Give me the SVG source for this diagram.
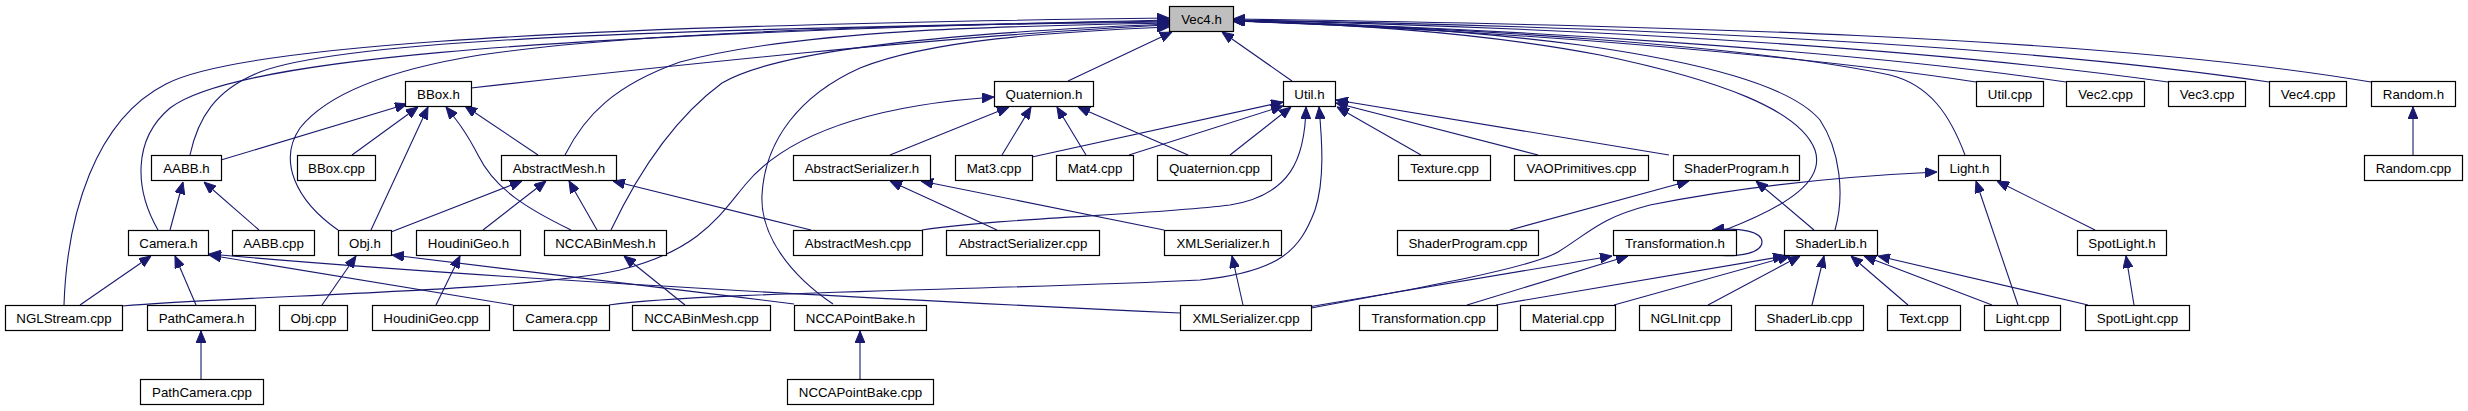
<svg xmlns="http://www.w3.org/2000/svg" width="2468" height="411" viewBox="0 0 2468 411">
<style>
.n rect{fill:#ffffff;stroke:#000000;stroke-width:1.2}
.n text{font-family:"Liberation Sans",Arial,sans-serif;font-size:13.3px;text-anchor:middle;fill:#000000}
#n_vec4h rect{fill:#bfbfbf}
.e path{fill:none;stroke:#191970;stroke-width:1.1;marker-end:url(#a)}
</style>
<defs>
<marker id="a" markerWidth="12" markerHeight="10" refX="12" refY="5" orient="auto" markerUnits="userSpaceOnUse">
<path d="M0,0 L12,5 L0,10 z" fill="#191970" stroke="#191970" stroke-width="1"/>
</marker>
</defs>
<rect width="2468" height="411" fill="#ffffff"/>
<g class="e" id="edges">
<!-- into Vec4.h (left) -->
<path d="M64,305 C67,215 95,120 166,84 C230,50 500,26 1169,18"/>
<path d="M158,230 C135,190 132,140 170,108 C230,62 500,35 1169,20"/>
<path d="M190,155 C198,118 215,90 260,72 C340,42 600,30 1169,21"/>
<path d="M338,230 C295,200 278,160 300,128 C330,90 400,68 480,55 C650,30 950,24 1169,22"/>
<path d="M471,88 C650,68 950,35 1169,25"/>
<path d="M565,155 C585,115 615,85 680,62 C800,30 1000,26 1169,23"/>
<path d="M611,230 C630,190 665,125 722,83 C770,55 900,35 1169,24"/>
<path d="M833,304 C790,275 760,235 762,195 C765,140 800,95 860,68 C930,40 1050,32 1169,27"/>
<path d="M1068,81 L1172,32"/>
<!-- into Vec4.h (right) -->
<path d="M1292,81 L1222,32"/>
<path d="M1725,230 C1790,205 1825,180 1815,150 C1800,110 1720,80 1600,55 C1480,32 1350,24 1233,21"/>
<path d="M1835,230 C1845,195 1840,150 1820,120 C1790,85 1700,62 1580,45 C1450,28 1330,23 1233,21"/>
<path d="M1965,155 C1950,115 1930,85 1890,75 C1750,45 1450,27 1233,21"/>
<path d="M1976,82 C1800,55 1500,30 1233,21"/>
<path d="M2066,82 C1850,50 1500,28 1233,21"/>
<path d="M2168,82 C1900,45 1550,27 1233,20"/>
<path d="M2269,82 C2000,42 1600,26 1233,20"/>
<path d="M2371,82 C2100,36 1650,25 1233,19"/>
<!-- BBox.h -->
<path d="M221,160 L407,104"/>
<path d="M352,155 L418,107"/>
<path d="M371,230 L428,107"/>
<path d="M571,230 C530,210 495,190 478,155 C465,130 455,118 446,107"/>
<path d="M538,155 L465,106"/>
<!-- AABB.h -->
<path d="M170,230 L183,182"/>
<path d="M259,230 L204,182"/>
<!-- AbstractMesh.h -->
<path d="M391,232 L522,181"/>
<path d="M483,230 L546,181"/>
<path d="M597,230 L569,181"/>
<path d="M811,230 L613,181"/>
<!-- Camera.h -->
<path d="M80,305 L151,256"/>
<path d="M196,305 L175,256"/>
<path d="M513,305 L209,255"/>
<path d="M1180,313 C900,300 500,280 209,254"/>
<!-- Obj.h -->
<path d="M322,305 L356,256"/>
<path d="M794,304 C650,286 500,268 392,255"/>
<!-- HoudiniGeo.h -->
<path d="M436,305 L460,256"/>
<!-- NCCABinMesh.h -->
<path d="M685,305 L624,256"/>
<!-- NCCAPointBake.h -->
<path d="M860,379 L860,331"/>
<!-- PathCamera.h -->
<path d="M201,379 L201,331"/>
<!-- Quaternion.h -->
<path d="M122,306 C250,295 520,292 620,270 C700,250 720,215 745,185 C790,130 880,105 994,97"/>
<path d="M890,155 L1009,107"/>
<path d="M1002,155 L1031,107"/>
<path d="M1086,155 L1057,107"/>
<path d="M1188,155 L1078,107"/>
<!-- Util.h -->
<path d="M1032,157 L1283,102"/>
<path d="M1129,155 L1283,106"/>
<path d="M1230,155 L1291,107"/>
<path d="M922,230 C1000,218 1150,215 1230,205 C1290,195 1305,160 1306,107"/>
<path d="M609,305 C700,292 1000,290 1200,280 C1280,272 1300,250 1315,210 C1325,180 1322,140 1319,107"/>
<path d="M1421,155 L1337,107"/>
<path d="M1538,155 L1336,103"/>
<path d="M1669,155 L1336,100"/>
<!-- ShaderProgram.h -->
<path d="M1510,230 L1689,181"/>
<path d="M1814,230 L1756,181"/>
<!-- Transformation.h -->
<path d="M1712,255 C1742,258 1762,252 1762,242 C1762,232 1742,227 1712,230"/>
<path d="M1308,307 L1612,256"/>
<path d="M1467,305 L1628,256"/>
<!-- ShaderLib.h -->
<path d="M1496,305 L1785,256"/>
<path d="M1614,305 L1790,256"/>
<path d="M1708,305 L1800,256"/>
<path d="M1812,305 L1824,256"/>
<path d="M1908,305 L1851,256"/>
<path d="M1992,305 L1864,256"/>
<path d="M2088,305 L1878,256"/>
<!-- Light.h -->
<path d="M1311,308 C1420,288 1530,268 1558,252 C1590,232 1600,218 1650,205 C1750,185 1850,176 1937,172"/>
<path d="M2018,305 L1976,181"/>
<path d="M2095,230 L1997,181"/>
<!-- SpotLight.h -->
<path d="M2134,305 L2126,256"/>
<!-- Random.h -->
<path d="M2413,155 L2413,107"/>
<!-- XMLSerializer.h -->
<path d="M1243,305 L1232,256"/>
<!-- AbstractSerializer.h -->
<path d="M997,230 L890,181"/>
<path d="M1164,230 L921,181"/>
</g>
<!-- row 0 -->
<g class="n" id="n_vec4h"><rect x="1169.5" y="6.5" width="64" height="25"/><text x="1201.5" y="23.5">Vec4.h</text></g>
<!-- row 1 -->
<g class="n" id="n_bboxh"><rect x="405.5" y="81.5" width="66" height="25"/><text x="438.5" y="98.5">BBox.h</text></g>
<g class="n" id="n_quaternionh"><rect x="994.5" y="81.5" width="99" height="25"/><text x="1044" y="98.5">Quaternion.h</text></g>
<g class="n" id="n_utilh"><rect x="1283.5" y="81.5" width="52" height="25"/><text x="1309.5" y="98.5">Util.h</text></g>
<g class="n" id="n_utilcpp"><rect x="1976.5" y="81.5" width="67" height="25"/><text x="2010" y="98.5">Util.cpp</text></g>
<g class="n" id="n_vec2cpp"><rect x="2066.5" y="81.5" width="78" height="25"/><text x="2105.5" y="98.5">Vec2.cpp</text></g>
<g class="n" id="n_vec3cpp"><rect x="2168.5" y="81.5" width="77" height="25"/><text x="2207" y="98.5">Vec3.cpp</text></g>
<g class="n" id="n_vec4cpp"><rect x="2269.5" y="81.5" width="77" height="25"/><text x="2308" y="98.5">Vec4.cpp</text></g>
<g class="n" id="n_randomh"><rect x="2371.5" y="81.5" width="84" height="25"/><text x="2413.5" y="98.5">Random.h</text></g>
<!-- row 2 -->
<g class="n" id="n_aabbh"><rect x="151.5" y="155.5" width="70" height="25"/><text x="186.5" y="172.5">AABB.h</text></g>
<g class="n" id="n_bboxcpp"><rect x="297.5" y="155.5" width="78" height="25"/><text x="336.5" y="172.5">BBox.cpp</text></g>
<g class="n" id="n_abstractmeshh"><rect x="501.5" y="155.5" width="115" height="25"/><text x="559" y="172.5">AbstractMesh.h</text></g>
<g class="n" id="n_abstractserializerh"><rect x="793.5" y="155.5" width="137" height="25"/><text x="862" y="172.5">AbstractSerializer.h</text></g>
<g class="n" id="n_mat3cpp"><rect x="955.5" y="155.5" width="77" height="25"/><text x="994" y="172.5">Mat3.cpp</text></g>
<g class="n" id="n_mat4cpp"><rect x="1056.5" y="155.5" width="77" height="25"/><text x="1095" y="172.5">Mat4.cpp</text></g>
<g class="n" id="n_quaternioncpp"><rect x="1157.5" y="155.5" width="114" height="25"/><text x="1214.5" y="172.5">Quaternion.cpp</text></g>
<g class="n" id="n_texturecpp"><rect x="1398.5" y="155.5" width="92" height="25"/><text x="1444.5" y="172.5">Texture.cpp</text></g>
<g class="n" id="n_vaoprimitivescpp"><rect x="1514.5" y="155.5" width="134" height="25"/><text x="1581.5" y="172.5">VAOPrimitives.cpp</text></g>
<g class="n" id="n_shaderprogramh"><rect x="1673.5" y="155.5" width="126" height="25"/><text x="1736.5" y="172.5">ShaderProgram.h</text></g>
<g class="n" id="n_lighth"><rect x="1938.5" y="155.5" width="62" height="25"/><text x="1969.5" y="172.5">Light.h</text></g>
<g class="n" id="n_randomcpp"><rect x="2364.5" y="155.5" width="98" height="25"/><text x="2413.5" y="172.5">Random.cpp</text></g>
<!-- row 3 -->
<g class="n" id="n_camerah"><rect x="128.5" y="230.5" width="80" height="25"/><text x="168.5" y="247.5">Camera.h</text></g>
<g class="n" id="n_aabbcpp"><rect x="232.5" y="230.5" width="82" height="25"/><text x="273.5" y="247.5">AABB.cpp</text></g>
<g class="n" id="n_objh"><rect x="338.5" y="230.5" width="53" height="25"/><text x="365" y="247.5">Obj.h</text></g>
<g class="n" id="n_houdinigeoh"><rect x="416.5" y="230.5" width="104" height="25"/><text x="468.5" y="247.5">HoudiniGeo.h</text></g>
<g class="n" id="n_nccabinmeshh"><rect x="544.5" y="230.5" width="122" height="25"/><text x="605.5" y="247.5">NCCABinMesh.h</text></g>
<g class="n" id="n_abstractmeshcpp"><rect x="793.5" y="230.5" width="129" height="25"/><text x="858" y="247.5">AbstractMesh.cpp</text></g>
<g class="n" id="n_abstractserializercpp"><rect x="946.5" y="230.5" width="153" height="25"/><text x="1023" y="247.5">AbstractSerializer.cpp</text></g>
<g class="n" id="n_xmlserializerh"><rect x="1164.5" y="230.5" width="117" height="25"/><text x="1223" y="247.5">XMLSerializer.h</text></g>
<g class="n" id="n_shaderprogramcpp"><rect x="1397.5" y="230.5" width="141" height="25"/><text x="1468" y="247.5">ShaderProgram.cpp</text></g>
<g class="n" id="n_transformationh"><rect x="1613.5" y="230.5" width="123" height="25"/><text x="1675" y="247.5">Transformation.h</text></g>
<g class="n" id="n_shaderlibh"><rect x="1784.5" y="230.5" width="93" height="25"/><text x="1831" y="247.5">ShaderLib.h</text></g>
<g class="n" id="n_spotlighth"><rect x="2077.5" y="230.5" width="89" height="25"/><text x="2122" y="247.5">SpotLight.h</text></g>
<!-- row 4 -->
<g class="n" id="n_nglstreamcpp"><rect x="5.5" y="305.5" width="117" height="25"/><text x="64" y="322.5">NGLStream.cpp</text></g>
<g class="n" id="n_pathcamerah"><rect x="147.5" y="305.5" width="108" height="25"/><text x="201.5" y="322.5">PathCamera.h</text></g>
<g class="n" id="n_objcpp"><rect x="279.5" y="305.5" width="68" height="25"/><text x="313.5" y="322.5">Obj.cpp</text></g>
<g class="n" id="n_houdinigeocpp"><rect x="372.5" y="305.5" width="117" height="25"/><text x="431" y="322.5">HoudiniGeo.cpp</text></g>
<g class="n" id="n_cameracpp"><rect x="513.5" y="305.5" width="96" height="25"/><text x="561.5" y="322.5">Camera.cpp</text></g>
<g class="n" id="n_nccabinmeshcpp"><rect x="632.5" y="305.5" width="138" height="25"/><text x="701.5" y="322.5">NCCABinMesh.cpp</text></g>
<g class="n" id="n_nccapointbakeh"><rect x="794.5" y="305.5" width="132" height="25"/><text x="860.5" y="322.5">NCCAPointBake.h</text></g>
<g class="n" id="n_xmlserializercpp"><rect x="1180.5" y="305.5" width="131" height="25"/><text x="1246" y="322.5">XMLSerializer.cpp</text></g>
<g class="n" id="n_transformationcpp"><rect x="1359.5" y="305.5" width="138" height="25"/><text x="1428.5" y="322.5">Transformation.cpp</text></g>
<g class="n" id="n_materialcpp"><rect x="1520.5" y="305.5" width="95" height="25"/><text x="1568" y="322.5">Material.cpp</text></g>
<g class="n" id="n_nglinitcpp"><rect x="1639.5" y="305.5" width="92" height="25"/><text x="1685.5" y="322.5">NGLInit.cpp</text></g>
<g class="n" id="n_shaderlibcpp"><rect x="1755.5" y="305.5" width="108" height="25"/><text x="1809.5" y="322.5">ShaderLib.cpp</text></g>
<g class="n" id="n_textcpp"><rect x="1887.5" y="305.5" width="73" height="25"/><text x="1924" y="322.5">Text.cpp</text></g>
<g class="n" id="n_lightcpp"><rect x="1984.5" y="305.5" width="76" height="25"/><text x="2022.5" y="322.5">Light.cpp</text></g>
<g class="n" id="n_spotlightcpp"><rect x="2085.5" y="305.5" width="104" height="25"/><text x="2137.5" y="322.5">SpotLight.cpp</text></g>
<!-- row 5 -->
<g class="n" id="n_pathcameracpp"><rect x="140.5" y="379.5" width="123" height="25"/><text x="202" y="396.5">PathCamera.cpp</text></g>
<g class="n" id="n_nccapointbakecpp"><rect x="787.5" y="379.5" width="146" height="25"/><text x="860.5" y="396.5">NCCAPointBake.cpp</text></g>
</svg>
